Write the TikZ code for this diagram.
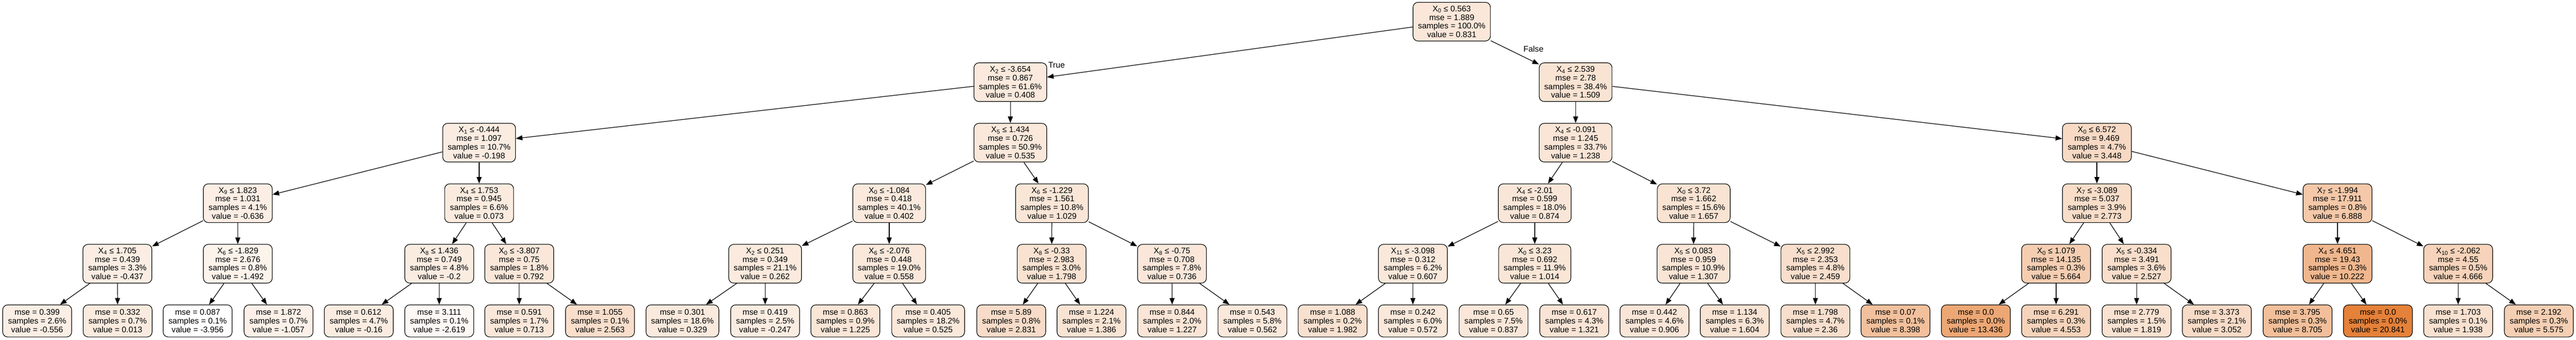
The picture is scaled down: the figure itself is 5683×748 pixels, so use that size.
\documentclass[tikz,border=0pt]{standalone}
\usepackage{fontspec}
\setmainfont{Liberation Sans}
\usetikzlibrary{arrows.meta}
\definecolor{sk}{HTML}{E58139}
\tikzset{
  tn/.style={draw=black, line width=1.3bp, rounded corners=11bp, align=center,
    font=\fontsize{18bp}{19bp}\selectfont, inner xsep=11bp, inner ysep=0bp,
    minimum width=152bp, minimum height=85.3bp},
  lf/.style={tn, minimum height=70.7bp},
  ed/.style={line width=1.4bp, -{Triangle[length=14.5bp,width=11bp]}},
  el/.style={font=\fontsize{18bp}{19bp}\selectfont, inner sep=0bp}
}
\newcommand\mkin[8]{\node[tn,fill=sk!#3] (#1) at (#2) {X\textsubscript{#4} ≤ #5\\mse = #6\\samples = #7\%\\value = #8};}
\newcommand\mklf[6]{\node[lf,fill=sk!#3] (#1) at (#2) {mse = #4\\samples = #5\%\\value = #6};}
\begin{document}
\begin{tikzpicture}[x=1bp,y=-1bp]
\useasboundingbox (0,0) rectangle (5683,748);
\fill[white] (0,0) rectangle (5683,748);
% depth 0-2
\mkin{n0}{3202.7,47.7}{19.3}{0}{0.563}{1.889}{100.0}{0.831}
\mkin{d0}{2229,181}{17.6}{2}{-3.654}{0.867}{61.6}{0.408}
\mkin{d1}{3476,181}{22.0}{4}{2.539}{2.78}{38.4}{1.509}
\mkin{c0}{1057,314.3}{15.2}{1}{-0.444}{1.097}{10.7}{-0.198}
\mkin{c1}{2229,314.3}{18.1}{5}{1.434}{0.726}{50.9}{0.535}
\mkin{c2}{3476,314.3}{20.9}{4}{-0.091}{1.245}{33.7}{1.238}
\mkin{c3}{4626,314.3}{29.9}{0}{6.572}{9.469}{4.7}{3.448}
% depth 3
\mkin{b0}{524.6,447.7}{13.4}{9}{1.823}{1.031}{4.1}{-0.636}
\mkin{b1}{1057,447.7}{16.2}{4}{1.753}{0.945}{6.6}{0.073}
\mkin{b2}{1961.7,447.7}{17.6}{0}{-1.084}{0.418}{40.1}{0.402}
\mkin{b3}{2320.8,447.7}{20.1}{6}{-1.229}{1.561}{10.8}{1.029}
\mkin{b4}{3385.8,447.7}{19.5}{4}{-2.01}{0.599}{18.0}{0.874}
\mkin{b5}{3736.6,447.7}{22.6}{0}{3.72}{1.662}{15.6}{1.657}
\mkin{b6}{4626,447.7}{27.1}{7}{-3.089}{5.037}{3.9}{2.773}
\mkin{b7}{5156.8,447.7}{43.7}{7}{-1.994}{17.911}{0.8}{6.888}
% depth 4
\mkin{a0}{259,581}{14.2}{4}{1.705}{0.439}{3.3}{-0.437}
\mkin{a1}{524.6,581}{9.9}{6}{-1.829}{2.676}{0.8}{-1.492}
\mkin{a2}{969,581}{15.1}{8}{1.436}{0.749}{4.8}{-0.2}
\mkin{a3}{1145.5,581}{19.1}{0}{-3.807}{0.75}{1.8}{0.792}
\mkin{a4}{1688,581}{17.0}{2}{0.251}{0.349}{21.1}{0.262}
\mkin{a5}{1961.7,581}{18.2}{6}{-2.076}{0.448}{19.0}{0.558}
\mkin{a6}{2320,581}{23.2}{8}{-0.33}{2.983}{3.0}{1.798}
\mkin{a7}{2585.5,581}{18.9}{8}{-0.75}{0.708}{7.8}{0.736}
\mkin{a8}{3117,581}{18.4}{11}{-3.098}{0.312}{6.2}{0.607}
\mkin{a9}{3385.8,581}{20.0}{0}{3.23}{0.692}{11.9}{1.014}
\mkin{a10}{3736,581}{21.2}{5}{0.083}{0.959}{10.9}{1.307}
\mkin{a11}{4005,581}{25.9}{5}{2.992}{2.353}{4.8}{2.459}
\mkin{a12}{4536,581}{38.8}{0}{1.079}{14.135}{0.3}{5.664}
\mkin{a13}{4713.6,581}{26.1}{5}{-0.334}{3.491}{3.6}{2.527}
\mkin{a14}{5156.8,581}{57.2}{4}{4.651}{19.43}{0.3}{10.222}
\mkin{a15}{5423,581}{34.8}{10}{-2.062}{4.55}{0.5}{4.666}
% leaves
\mklf{l0}{82,707}{13.7}{0.399}{2.6}{-0.556}
\mklf{l1}{259.5,707}{16.0}{0.332}{0.7}{0.013}
\mklf{l2}{436,707}{0}{0.087}{0.1}{-3.956}
\mklf{l3}{614.5,707}{11.7}{1.872}{0.7}{-1.057}
\mklf{l4}{791.5,707}{15.3}{0.612}{4.7}{-0.16}
\mklf{l5}{969,707}{5.4}{3.111}{0.1}{-2.619}
\mklf{l6}{1145.5,707}{18.8}{0.591}{1.7}{0.713}
\mklf{l7}{1323.7,707}{26.3}{1.055}{0.1}{2.563}
\mklf{l8}{1505.5,707}{17.3}{0.301}{18.6}{0.329}
\mklf{l9}{1688,707}{15.0}{0.419}{2.5}{-0.247}
\mklf{l10}{1865,707}{20.9}{0.863}{0.9}{1.225}
\mklf{l11}{2047.6,707}{18.1}{0.405}{18.2}{0.525}
\mklf{l12}{2231,707}{27.4}{5.89}{0.8}{2.831}
\mklf{l13}{2408,707}{21.5}{1.224}{2.1}{1.386}
\mklf{l14}{2586,707}{20.9}{0.844}{2.0}{1.227}
\mklf{l15}{2763,707}{18.2}{0.543}{5.8}{0.562}
\mklf{l16}{2940,707}{23.9}{1.088}{0.2}{1.982}
\mklf{l17}{3117,707}{18.3}{0.242}{6.0}{0.572}
\mklf{l18}{3295,707}{19.3}{0.65}{7.5}{0.837}
\mklf{l19}{3473,707}{21.3}{0.617}{4.3}{1.321}
\mklf{l20}{3650,707}{19.6}{0.442}{4.6}{0.906}
\mklf{l21}{3827,707}{22.4}{1.134}{6.3}{1.604}
\mklf{l22}{4005,707}{25.5}{1.798}{4.7}{2.36}
\mklf{l23}{4181.7,707}{49.8}{0.07}{0.1}{8.398}
\mklf{l24}{4359,707}{70.1}{0.0}{0.0}{13.436}
\mklf{l25}{4536,707}{34.3}{6.291}{0.3}{4.553}
\mklf{l26}{4713.6,707}{23.3}{2.779}{1.5}{1.819}
\mklf{l27}{4890.6,707}{28.3}{3.373}{2.1}{3.052}
\mklf{l28}{5068.8,707}{51.1}{3.795}{0.3}{8.705}
\mklf{l29}{5246,707}{100}{0.0}{0.0}{20.841}
\mklf{l30}{5423,707}{23.8}{1.703}{0.1}{1.938}
\mklf{l31}{5601,707}{38.4}{2.192}{0.3}{5.575}
% edges
\foreach \p/\c in {n0/d0,n0/d1,d0/c0,d0/c1,d1/c2,d1/c3,
  c0/b0,c0/b1,c1/b2,c1/b3,c2/b4,c2/b5,c3/b6,c3/b7,
  b0/a0,b0/a1,b1/a2,b1/a3,b2/a4,b2/a5,b3/a6,b3/a7,
  b4/a8,b4/a9,b5/a10,b5/a11,b6/a12,b6/a13,b7/a14,b7/a15}
  \draw[ed] (\p) -- (\c);
\foreach \k in {0,...,15}{
  \pgfmathtruncatemacro\li{2*\k}
  \pgfmathtruncatemacro\lj{2*\k+1}
  \draw[ed] (a\k) -- (l\li);
  \draw[ed] (a\k) -- (l\lj);
}
% edge labels
\node[el] (lblT) at (2331,143) {True};
\node[el] (lblF) at (3383,108) {False};
\end{tikzpicture}
\end{document}
